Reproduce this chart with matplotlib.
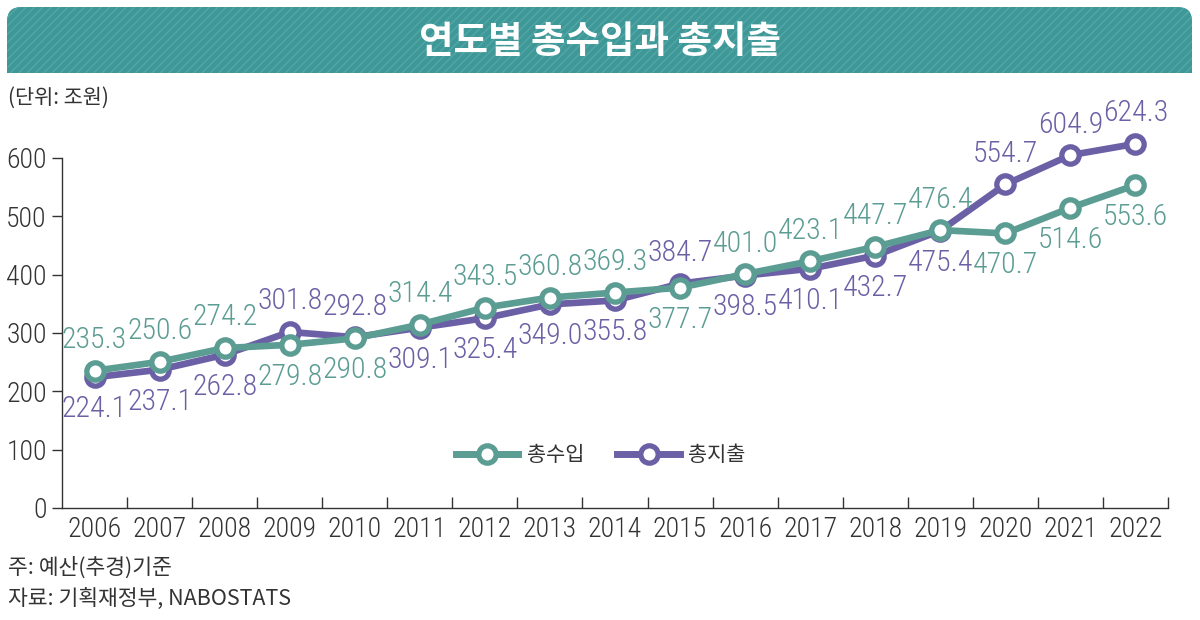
import matplotlib

matplotlib.use("Agg")
import matplotlib.pyplot as plt
from matplotlib.lines import Line2D
from matplotlib.path import Path
from matplotlib.patches import PathPatch

# 데이터 (단위: 조원)
years = ["2006", "2007", "2008", "2009", "2010", "2011", "2012", "2013", "2014",
         "2015", "2016", "2017", "2018", "2019", "2020", "2021", "2022"]
revenue = [235.3, 250.6, 274.2, 279.8, 290.8, 314.4, 343.5, 360.8, 369.3,
           377.7, 401.0, 423.1, 447.7, 476.4, 470.7, 514.6, 553.6]
expenditure = [224.1, 237.1, 262.8, 301.8, 292.8, 309.1, 325.4, 349.0, 355.8,
               384.7, 398.5, 410.1, 432.7, 475.4, 554.7, 604.9, 624.3]
y_ticks = [0, 100, 200, 300, 400, 500, 600]

TEAL = "#5b9c93"
PURPLE = "#6b60a5"
BANNER = "#3f9898"
TEXT = "#333333"
NUM_FONT = ["Roboto Condensed", "Noto Sans CJK KR", "DejaVu Sans"]
KR_FONT = ["Noto Sans CJK KR", "DejaVu Sans"]

plt.rcParams["font.family"] = NUM_FONT
plt.rcParams["font.weight"] = "light"
plt.rcParams["hatch.linewidth"] = 1.0

fig = plt.figure(figsize=(12, 6.2), dpi=100)

# 장식용 축 (픽셀 좌표)
deco = fig.add_axes([0, 0, 1, 1])
deco.set_xlim(0, 1200)
deco.set_ylim(620, 0)
deco.axis("off")

# 상단 제목 배너 (위쪽 모서리만 둥글게)
x0, x1, y0, y1, r = 7, 1192, 7, 73, 14
verts = [(x0, y1), (x0, y0 + r), (x0, y0), (x0 + r, y0), (x1 - r, y0),
         (x1, y0), (x1, y0 + r), (x1, y1), (x0, y1)]
codes = [Path.MOVETO, Path.LINETO, Path.CURVE3, Path.CURVE3, Path.LINETO,
         Path.CURVE3, Path.CURVE3, Path.LINETO, Path.CLOSEPOLY]
banner = Path(verts, codes)
deco.add_patch(PathPatch(banner, facecolor=BANNER, edgecolor="none"))
deco.add_patch(PathPatch(banner, facecolor="none", edgecolor="#55a6a6",
                         hatch="////", linewidth=0))
deco.text(600, 41, "연도별 총수입과 총지출", ha="center", va="center",
          color="white", fontsize=27, fontweight="bold", family=KR_FONT)

deco.text(8, 98, "(단위: 조원)", ha="left", va="center", color=TEXT,
          fontsize=15, family=KR_FONT)
deco.text(8, 568, "주: 예산(추경)기준", ha="left", va="center", color=TEXT,
          fontsize=15.5, family=KR_FONT)
deco.text(8, 600, "자료: 기획재정부, NABOSTATS", ha="left", va="center",
          color=TEXT, fontsize=15.5, family=KR_FONT)

# 메인 차트
ax = fig.add_axes([62 / 1200, 1 - 508 / 620, 1106 / 1200, 350 / 620])
x = list(range(len(years)))

line_kw = dict(lw=4.8, marker="o", ms=12.5, mfc="white", mew=3.8, clip_on=False)
ax.plot(x, expenditure, color=PURPLE, zorder=3, **line_kw)
ax.plot(x, revenue, color=TEAL, zorder=4, **line_kw)

# 데이터 레이블: 값이 큰 쪽은 위, 작은 쪽은 아래
for i, (rv, ex) in enumerate(zip(revenue, expenditure)):
    for val, other, color in ((rv, ex, TEAL), (ex, rv, PURPLE)):
        dy = 22 if val >= other else -23
        ax.annotate(f"{val:.1f}", (i, val), xytext=(0, dy),
                    textcoords="offset points", ha="center", va="center",
                    color=color, fontsize=21.5, annotation_clip=False)

ax.set_xlim(-0.5, len(years) - 0.5)
ax.set_ylim(0, 600)
ax.set_yticks(y_ticks)
ax.set_yticklabels([str(v) for v in y_ticks])
ax.set_xticks(x)
ax.set_xticklabels(years)
ax.set_xticks([i + 0.5 for i in x], minor=True)
ax.tick_params(axis="x", which="major", length=0, pad=6,
               labelsize=20, labelcolor=TEXT)
ax.tick_params(axis="x", which="minor", direction="in", length=8,
               width=1, color=TEXT)
ax.tick_params(axis="y", direction="out", length=7, width=1, color=TEXT,
               labelsize=20, labelcolor=TEXT, pad=4)

for side in ("top", "right"):
    ax.spines[side].set_visible(False)
for side in ("left", "bottom"):
    ax.spines[side].set_color(TEXT)
    ax.spines[side].set_linewidth(1)

handles = [
    Line2D([], [], color=TEAL, lw=5, marker="o", ms=12.5, mfc="white", mew=3.8),
    Line2D([], [], color=PURPLE, lw=5, marker="o", ms=12.5, mfc="white", mew=3.8),
]
ax.legend(handles, ["총수입", "총지출"], loc="center",
          bbox_to_anchor=(0.487, 0.151), ncol=2, frameon=False,
          prop={"family": KR_FONT, "size": 15}, labelcolor=TEXT,
          handlelength=3, handletextpad=0.4, columnspacing=1.6)

fig.savefig("out.png", dpi=100)
